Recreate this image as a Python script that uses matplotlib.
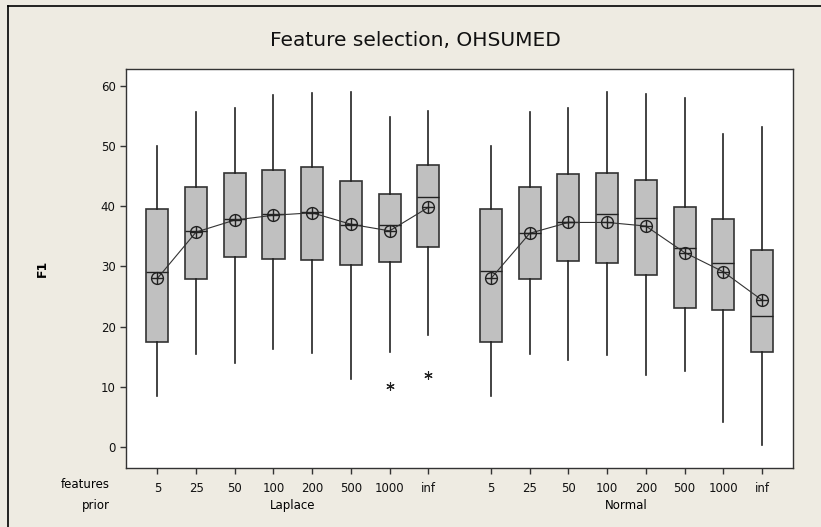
import numpy as np
import matplotlib
matplotlib.use("Agg")
import matplotlib.pyplot as plt
from matplotlib.lines import Line2D

# F1 box plot values
features = ["5", "25", "50", "100", "200", "500", "1000", "inf"]
priors = ["Laplace", "Normal"]

lap_whislo = [8.5, 15.4, 14.0, 16.3, 15.6, 11.3, 15.8, 18.6]
lap_q1 = [17.5, 27.9, 31.6, 31.3, 31.1, 30.2, 30.7, 33.2]
lap_med = [29.1, 35.9, 37.8, 38.7, 39.0, 36.9, 36.9, 41.5]
lap_q3 = [39.6, 43.2, 45.5, 46.0, 46.5, 44.2, 42.1, 46.9]
lap_whishi = [50.0, 55.6, 56.3, 58.4, 58.8, 59.0, 54.9, 55.8]
lap_mean = [28.0, 35.7, 37.7, 38.5, 38.9, 37.0, 35.9, 39.8]
lap_fliers = [[], [], [], [], [], [], [10.1], [12.0]]

norm_whislo = [8.5, 15.4, 14.5, 15.2, 12.0, 12.6, 4.2, 0.3]
norm_q1 = [17.5, 27.9, 30.9, 30.5, 28.6, 23.0, 22.7, 15.8]
norm_med = [29.2, 35.6, 37.3, 38.7, 38.0, 33.0, 30.5, 21.8]
norm_q3 = [39.6, 43.2, 45.3, 45.5, 44.4, 39.9, 37.8, 32.7]
norm_whishi = [50.0, 55.6, 56.3, 58.9, 58.6, 57.9, 52.0, 53.1]
norm_mean = [28.0, 35.5, 37.3, 37.3, 36.7, 32.3, 29.1, 24.4]
norm_fliers = [[], [], [], [], [], [], [], []]

bg = "#eeebe2"
fig = plt.figure(figsize=(8.21, 5.27), dpi=100, facecolor=bg)
ax = fig.add_axes([0.1535, 0.112, 0.8128, 0.7571])
ax.set_facecolor("white")

lap_pos = np.arange(8)
norm_pos = np.arange(8) + 8.62


def make_stats(lo, q1, med, q3, hi, mean, fl):
    return [dict(whislo=lo[i], q1=q1[i], med=med[i], q3=q3[i], whishi=hi[i],
                 mean=mean[i], fliers=fl[i]) for i in range(len(q1))]


groups = [
    (lap_pos, make_stats(lap_whislo, lap_q1, lap_med, lap_q3, lap_whishi, lap_mean, lap_fliers), lap_mean),
    (norm_pos, make_stats(norm_whislo, norm_q1, norm_med, norm_q3, norm_whishi, norm_mean, norm_fliers), norm_mean),
]

for pos, stats, means in groups:
    ax.bxp(stats, positions=pos, widths=0.57, patch_artist=True,
           showcaps=False, showmeans=False, manage_ticks=False,
           boxprops=dict(facecolor="#c0c0c0", edgecolor="#333333", linewidth=1.2),
           medianprops=dict(color="#222222", linewidth=1.0),
           whiskerprops=dict(color="#222222", linewidth=1.2),
           flierprops=dict(marker=(6, 2, 0), markersize=6, markeredgecolor="#222222",
                           markeredgewidth=0.8, linestyle="none"))
    ax.plot(pos, means, color="#333333", linewidth=0.8, zorder=4)
    ax.plot(pos, means, linestyle="none", marker="o", markersize=8.5,
            markerfacecolor="none", markeredgecolor="#222222", markeredgewidth=1.0, zorder=5)
    ax.plot(pos, means, linestyle="none", marker="+", markersize=8.5,
            markeredgecolor="#222222", markeredgewidth=1.0, zorder=5)

ax.set_xlim(-0.81, 16.43)
ax.set_ylim(-3.5, 62.8)
ax.set_yticks([0, 10, 20, 30, 40, 50, 60])
ax.set_xticks(list(lap_pos) + list(norm_pos))
ax.set_xticklabels(features + features)
ax.tick_params(axis="both", direction="out", length=4, width=1, color="#333333",
               labelsize=8.5, labelcolor="#111111")
ax.tick_params(axis="x", pad=6)
for s in ax.spines.values():
    s.set_color("#333333")
    s.set_linewidth(1.0)

ax.set_ylabel("F1", fontsize=9, fontweight="bold", labelpad=37)

# prior group labels
trans = ax.get_xaxis_transform()
ax.text(lap_pos.mean(), -0.095, priors[0], transform=trans, ha="center", va="center", fontsize=8.5)
ax.text(norm_pos.mean(), -0.095, priors[1], transform=trans, ha="center", va="center", fontsize=8.5)
fig.text(110 / 821, 1 - 485 / 527, "features", ha="right", va="center", fontsize=8.5)
fig.text(110 / 821, 1 - 505 / 527, "prior", ha="right", va="center", fontsize=8.5)

fig.text(415 / 821, 1 - 41 / 527, "Feature selection, OHSUMED", ha="center", va="center",
         fontsize=14.5, color="#111111")

# outer frame (left and top edges visible)
fig.add_artist(Line2D([8 / 821, 8 / 821], [0, 1 - 6 / 527], transform=fig.transFigure,
                      color="black", linewidth=1.2))
fig.add_artist(Line2D([8 / 821, 1], [1 - 6 / 527, 1 - 6 / 527], transform=fig.transFigure,
                      color="black", linewidth=1.2))

fig.savefig("out.png", dpi=100, facecolor=bg)
